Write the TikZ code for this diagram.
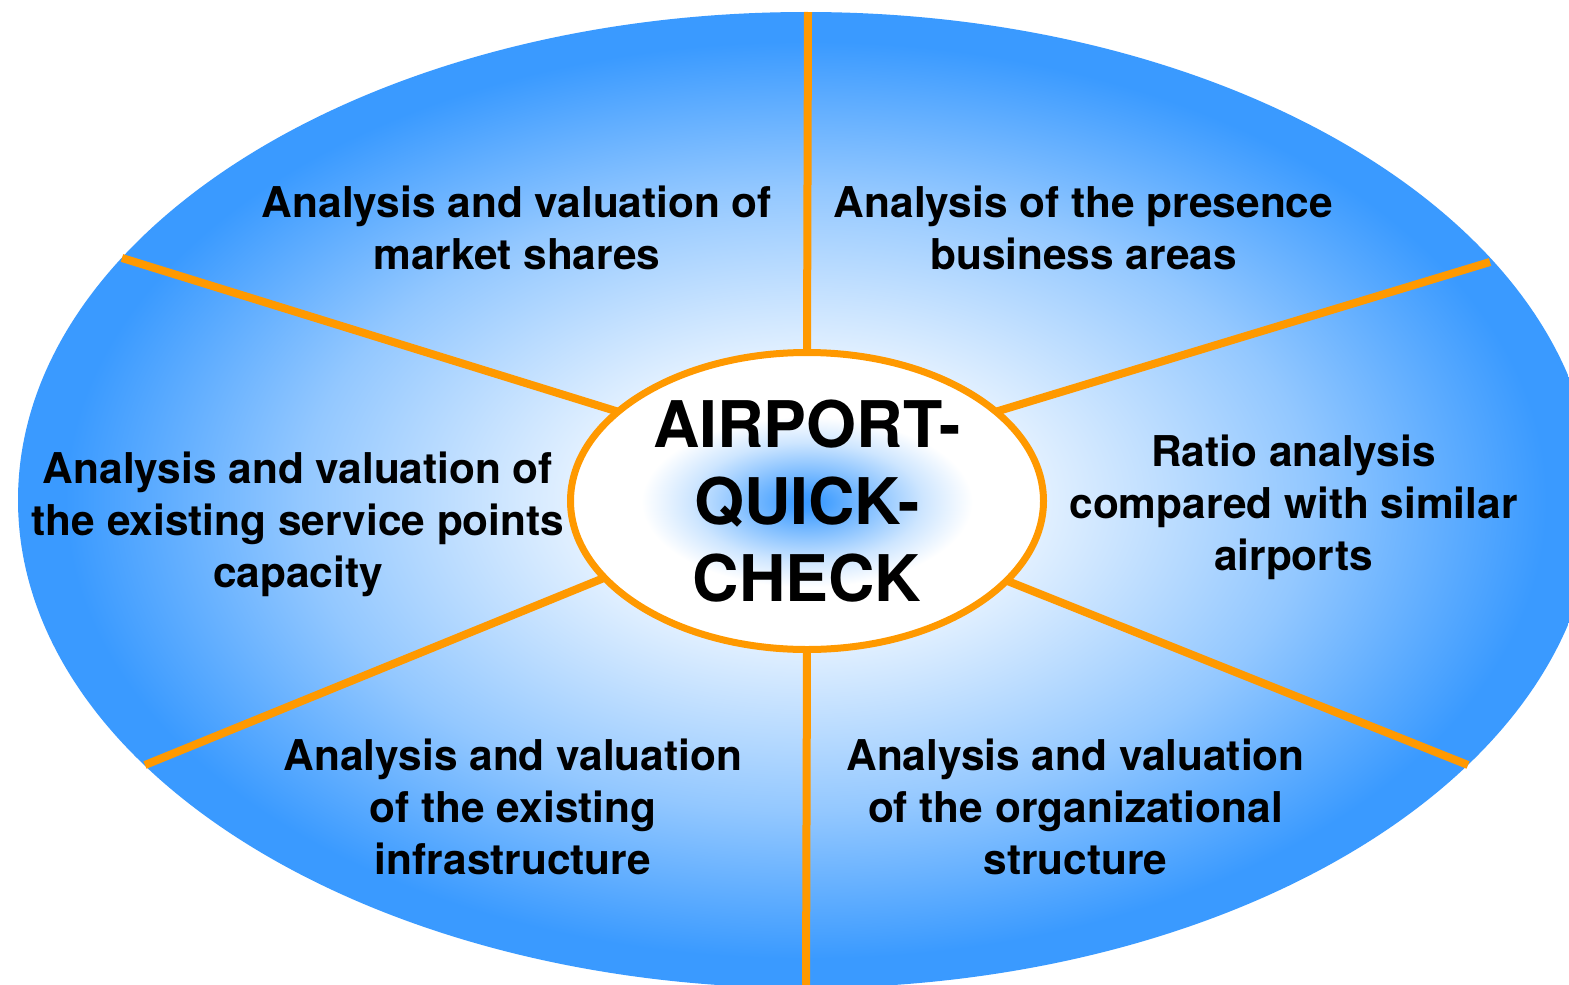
\documentclass[tikz,border=0pt]{standalone}
\usepackage{fontspec}
\setmainfont{TeX Gyre Heros}
\usetikzlibrary{shapes.geometric}
\definecolor{skyblue}{RGB}{58,154,255}
\definecolor{spokeorange}{RGB}{255,153,0}
\pgfdeclareradialshading{outerfill}{\pgfpoint{0bp}{0bp}}{%
  color(0bp)=(white); color(2bp)=(white);
  color(7.5bp)=(skyblue!15!white); color(16bp)=(skyblue!55!white);
  color(23.5bp)=(skyblue); color(50bp)=(skyblue)}
\pgfdeclareradialshading{blobfill}{\pgfpoint{0bp}{0bp}}{%
  color(0bp)=(skyblue); color(5bp)=(skyblue!95!white); color(20bp)=(skyblue!60!white);
  color(35bp)=(skyblue!25!white); color(50bp)=(white)}
\tikzset{
  spoke/.style={draw=spokeorange, line width=8pt},
  label/.style={font=\fontsize{42.4}{52}\selectfont\bfseries, align=center, inner sep=0pt, text=black},
}
\begin{document}
\begin{tikzpicture}[x=1pt,y=-1pt]
\useasboundingbox (0,0) rectangle (1569,985);
\clip (0,0) rectangle (1569,985);
\fill[white] (0,0) rectangle (1569,985);
\node[ellipse, inner sep=0pt, minimum width=1576pt, minimum height=976pt, shading=outerfill] (outer) at (806,500) {};
\node[ellipse, inner sep=0pt, minimum width=473pt, minimum height=297pt, fill=white] (hubfill) at (807,500) {};
\node[inner sep=0pt, transform shape, xscale=3.3, yscale=1.7] (blob) at (807,502) {\pgfuseshading{blobfill}};
\coordinate (pt) at (808,12);
\coordinate (pb) at (806,995);
\coordinate (pul) at (122,258);
\coordinate (pur) at (1490,262);
\coordinate (pll) at (145,765);
\coordinate (plr) at (1468,765);
\draw[spoke] (hubfill.north) -- (pt);
\draw[spoke] (hubfill.south) -- (pb);
\draw[spoke] (hubfill.155) -- (pul);
\draw[spoke] (hubfill.25) -- (pur);
\draw[spoke] (hubfill.201.5) -- (pll);
\draw[spoke] (hubfill.338.5) -- (plr);
\node[ellipse, inner sep=0pt, minimum width=473pt, minimum height=297pt, draw=spokeorange, line width=7pt,
  font=\fontsize{64.3}{77}\selectfont\bfseries, align=center] (hub) at (807,501) {AIRPORT-\\QUICK-\\CHECK};
\node[label] (tl) at (517,227.7) {Analysis and valuation of\\market shares};
\node[label] (tr) at (1083.5,227.7) {Analysis of the presence\\business areas};
\node[label] (ml) at (298,524) {Analysis and valuation of\\the existing service points\\capacity};
\node[label] (mr) at (1293.5,507.6) {Ratio analysis\\compared with similar\\airports};
\node[label] (bl) at (513,807.2) {Analysis and valuation\\of the existing\\infrastructure};
\node[label] (br) at (1075.5,807.2) {Analysis and valuation\\of the organizational\\structure};
\end{tikzpicture}
\end{document}
